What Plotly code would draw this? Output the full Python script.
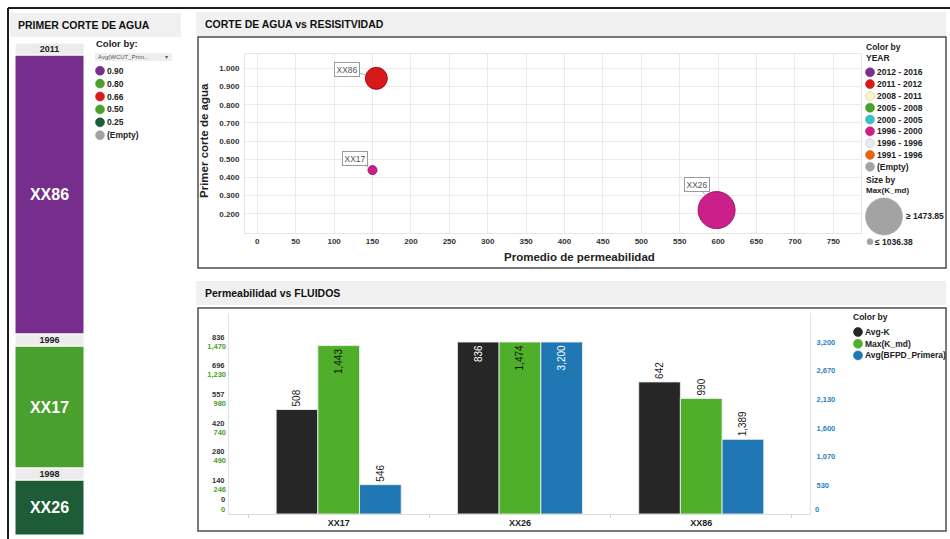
import plotly.graph_objects as go

W, H = 950, 539
FONT = "Liberation Sans, Arial, sans-serif"
FONT_TIT = "Liberation Sans Narrow, Arial Narrow, Liberation Sans, Arial, sans-serif"


def fx(p):
    return p / W


def fy(p):
    return 1 - p / H


# ---------- Primer corte de agua (columna por pozo) ----------
pozos_col = ["XX86", "XX17", "XX26"]
anio_col = [2011, 1996, 1998]
peso_col = [279, 122, 55]
wcut_col = ["0.90", "0.50", "0.25"]

wcut_leyenda = ["0.90", "0.80", "0.66", "0.50", "0.25", "(Empty)"]
wcut_colores = ["#772d8b", "#4aa02c", "#d7191c", "#4aa02c", "#1e5c37", "#a3a3a3"]

# ---------- Corte de agua vs resistividad ----------
pozos_sc = ["XX86", "XX17", "XX26"]
perm_prom = [155, 150, 598]
corte_agua = [0.945, 0.44, 0.22]
periodo_sc = ["2011 - 2012", "1996 - 2000", "1996 - 2000"]

periodos = ["2012 - 2016", "2011 - 2012", "2008 - 2011", "2005 - 2008", "2000 - 2005",
            "1996 - 2000", "1996 - 1996", "1991 - 1996", "(Empty)"]
periodo_colores = ["#7b2f8f", "#d7191c", "#fbf5c0", "#4aa02c", "#3cbfbf",
                   "#cc1f8a", "#e6ebf2", "#e8650f", "#a3a3a3"]
tam_leyenda = ["≥ 1473.85", "≤ 1036.38"]

# ---------- Permeabilidad vs fluidos ----------
pozos_bar = ["XX17", "XX26", "XX86"]
avg_k = [508, 836, 642]
max_k = [1443, 1474, 990]
avg_bfpd = [546, 3200, 1389]
ticks_avgk = ["140", "280", "420", "557", "696", "836"]
ticks_maxk = ["246", "490", "740", "980", "1,230", "1,470"]
ticks_bfpd = ["530", "1,070", "1,600", "2,130", "2,670", "3,200"]
series_bar = ["Avg-K", "Max(K_md)", "Avg(BFPD_Primera)"]
series_colores = ["#262626", "#4faf2b", "#1f78b4"]

fig = go.Figure()

# ---- columna apilada: bloque por pozo con franja de año encima
franja = 12
n = len(pozos_col)
base_bloque = [0] * n
base_franja = [0] * n
acum = 0
for i in reversed(range(n)):
    base_bloque[i] = acum
    acum += peso_col[i]
    base_franja[i] = acum
    acum += franja
total_col = acum
color_wcut = dict(zip(wcut_leyenda, wcut_colores))

fig.add_trace(go.Bar(
    x=[0] * n, y=peso_col, base=base_bloque, width=1,
    marker=dict(color=[color_wcut[w] for w in wcut_col], line=dict(color="white", width=1)),
    text=pozos_col, textposition="inside", insidetextanchor="middle", textangle=0,
    constraintext="none",
    textfont=dict(family=FONT, size=16, color="white", weight="bold"),
    xaxis="x", yaxis="y", hoverinfo="skip", showlegend=False,
))
fig.add_trace(go.Bar(
    x=[0] * n, y=[franja] * n, base=base_franja, width=1,
    marker=dict(color="#ececec", line=dict(color="white", width=1)),
    text=[str(a) for a in anio_col], textposition="inside", insidetextanchor="middle",
    textangle=0, constraintext="none",
    textfont=dict(family=FONT, size=9, color="#222", weight="bold"),
    xaxis="x", yaxis="y", hoverinfo="skip", showlegend=False,
))

# ---- burbujas
color_periodo = dict(zip(periodos, periodo_colores))
borde_periodo = {"2011 - 2012": "#a31214", "1996 - 2000": "#9c1669"}
diam_burbuja = [22, 9, 37]
fig.add_trace(go.Scatter(
    x=perm_prom, y=corte_agua, mode="markers",
    marker=dict(size=diam_burbuja, opacity=1,
                color=[color_periodo[p] for p in periodo_sc],
                line=dict(color=[borde_periodo[p] for p in periodo_sc], width=1)),
    xaxis="x2", yaxis="y2", hoverinfo="skip", showlegend=False, cliponaxis=False,
))

# ---- barras con tres ejes independientes
medidas = [avg_k, max_k, avg_bfpd]
ejes = ["y3", "y4", "y5"]
ancho = 0.23
desplaz = [-0.345, -0.115, 0.115]
for k, (vals, nombre, col, eje) in enumerate(zip(medidas, series_bar, series_colores, ejes)):
    tope = max(vals)
    pos = ["inside" if v / tope > 0.9 else "outside" for v in vals]
    txtcol = []
    for p in pos:
        if p == "inside":
            txtcol.append("#111" if k == 1 else "white")
        else:
            txtcol.append("#1a1a1a")
    fig.add_trace(go.Bar(
        x=list(range(len(pozos_bar))), y=vals, width=ancho, offset=desplaz[k],
        marker=dict(color=col, line=dict(color="rgba(235,235,235,0.9)", width=1)),
        texttemplate="%{y:,.0f}", textposition=pos, textangle=-90,
        insidetextanchor="end", constraintext="none",
        textfont=dict(family=FONT, size=10, color=txtcol),
        xaxis="x3", yaxis=eje, name=nombre, hoverinfo="skip", showlegend=False,
        cliponaxis=False,
    ))

# ---------- decoración en coordenadas de página ----------
shapes = []
ann = []


def rect(x0, y0, x1, y1, fill=None, line=None, lw=1, layer="below"):
    shapes.append(dict(type="rect", xref="paper", yref="paper",
                       x0=fx(x0), x1=fx(x1), y0=fy(y1), y1=fy(y0),
                       fillcolor=fill or "rgba(0,0,0,0)",
                       line=dict(color=line or "rgba(0,0,0,0)", width=lw if line else 0),
                       layer=layer))


def linea(x0, y0, x1, y1, color="#1a1a1a", lw=2):
    shapes.append(dict(type="line", xref="paper", yref="paper",
                       x0=fx(x0), x1=fx(x1), y0=fy(y0), y1=fy(y1),
                       line=dict(color=color, width=lw), layer="above"))


def circulo(cx, cy, d, color, borde=None):
    shapes.append(dict(type="circle", xref="paper", yref="paper",
                       x0=fx(cx - d / 2), x1=fx(cx + d / 2),
                       y0=fy(cy + d / 2), y1=fy(cy - d / 2),
                       fillcolor=color, line=dict(color=borde or color, width=0.6),
                       layer="above"))


def texto(x, y, s, size=8.5, bold=True, color="#222", anchor="left", family=FONT, angle=0):
    ann.append(dict(xref="paper", yref="paper", x=fx(x), y=fy(y), text=s,
                    xanchor=anchor, yanchor="middle", showarrow=False, textangle=angle,
                    font=dict(family=family, size=size, color=color,
                              weight="bold" if bold else "normal")))


# marco general
linea(8, 8, 950, 8)
linea(8, 8, 8, 539)

# encabezados
rect(10, 13, 181, 37, fill="#f0f0f0")
texto(16, 25, "PRIMER CORTE DE AGUA", size=10.5, family=FONT_TIT, color="#111")
rect(196, 12, 946, 36, fill="#f0f0f0")
texto(203, 24, "CORTE DE AGUA vs RESISITVIDAD", size=10.5, family=FONT_TIT, color="#111")
rect(196, 281, 946, 305, fill="#f0f0f0")
texto(203, 293, "Permeabilidad vs FLUIDOS", size=10.5, family=FONT_TIT, color="#111")

# marcos de los paneles
rect(198, 37, 946, 268, line="#4d4d4d", lw=1.5)
rect(198, 308, 946, 531, line="#4d4d4d", lw=1.5)

# leyenda de la columna
texto(94, 43.5, "Color by:", size=9.5)
rect(95, 53, 172, 61, fill="#efefef")
texto(96, 57, "Avg(WCUT_Prim...", size=6, bold=False, color="#555")
texto(163, 57, "▾", size=6, bold=False, color="#555")
for i, (lab, col) in enumerate(zip(wcut_leyenda, wcut_colores)):
    cy = 70.7 + i * 12.9
    circulo(100, cy, 9, col)
    texto(105, cy, lab, size=8.5)

# leyenda de burbujas
texto(864, 46.5, "Color by", size=8.5)
texto(864, 57.5, "YEAR", size=8.5)
for i, (lab, col) in enumerate(zip(periodos, periodo_colores)):
    cy = 72.3 + i * 11.8
    circulo(870, cy, 9, col, borde="#c8c8c8" if col in ("#fbf5c0", "#e6ebf2") else col)
    texto(875, cy, lab, size=8.5)
texto(864, 179.5, "Size by", size=8.5)
texto(864, 190.5, "Max(K_md)", size=8)
circulo(884, 216.5, 37, "#a3a3a3")
texto(904, 216.5, tam_leyenda[0], size=8.5)
circulo(870, 241.7, 6, "#a3a3a3")
texto(873, 241.7, tam_leyenda[1], size=8.5)

# leyenda de barras
texto(851, 317, "Color by", size=8.5)
for i, (lab, col) in enumerate(zip(series_bar, series_colores)):
    cy = 332 + i * 11.7
    circulo(858, cy, 9, col)
    texto(863, cy, lab, size=8.5)

# títulos de ejes del gráfico de burbujas
texto(579, 257, "Promedio de permeabilidad", size=11.5, anchor="center")
ann.append(dict(xref="paper", yref="paper", x=fx(204), y=fy(141), text="Primer corte de agua",
                textangle=-90, xanchor="center", yanchor="middle", showarrow=False,
                font=dict(family=FONT, size=11.5, color="#222", weight="bold")))

# etiquetas de pozos en las burbujas
desfase = {"XX86": (-29, -9, 11), "XX17": (-18, -12, 4.5), "XX26": (-20, -26, 18)}
for p, xv, yv in zip(pozos_sc, perm_prom, corte_agua):
    ax, ay, r = desfase[p]
    ann.append(dict(xref="x2", yref="y2", x=xv, y=yv, text=p, showarrow=True,
                    ax=ax, ay=ay, arrowhead=0, arrowwidth=0.8, arrowcolor="#9a9a9a",
                    standoff=r, bordercolor="#9a9a9a", borderwidth=1, borderpad=1.5,
                    bgcolor="white",
                    font=dict(family=FONT, size=8.5, color="#555")))

# ceros de los ejes de barras
texto(227, 499, "0", size=7.5, color="#333", anchor="right")
texto(227, 509, "0", size=7.5, color="#4aa02c", anchor="right")
texto(813, 509, "0", size=7.5, color="#2b7fc0", anchor="left")

# ---------- ejes ----------
K = 201 / 172
tick_style = dict(family=FONT, size=8, color="#333", weight="bold")
fig.update_layout(
    width=W, height=H, margin=dict(l=0, r=0, t=0, b=0),
    paper_bgcolor="white", plot_bgcolor="rgba(0,0,0,0)",
    barmode="overlay", showlegend=False, shapes=shapes, annotations=ann,
    xaxis=dict(domain=[fx(15), fx(84)], range=[-0.5, 0.5], visible=False, anchor="y"),
    yaxis=dict(domain=[fy(535), fy(43)], range=[0, total_col], visible=False, anchor="x"),
    xaxis2=dict(domain=[fx(245), fx(861)], range=[-16, 786], anchor="y2",
                tickvals=list(range(0, 751, 50)), showgrid=True, gridcolor="#ebebeb",
                zeroline=False, showline=True, mirror=True, linecolor="#e6e6e6",
                ticks="", tickfont=tick_style),
    yaxis2=dict(domain=[fy(233), fy(54)], range=[0.094, 1.079], anchor="x2",
                tickvals=[0.2, 0.3, 0.4, 0.5, 0.6, 0.7, 0.8, 0.9, 1.0], tickformat=".3f",
                showgrid=True, gridcolor="#ebebeb", zeroline=False, showline=True,
                mirror=True, linecolor="#e6e6e6", ticks="", tickfont=tick_style,
                ticklabelstandoff=3),
    xaxis3=dict(domain=[fx(229), fx(810)], range=[-0.605, 2.6], anchor="y3",
                tickvals=list(range(len(pozos_bar))), ticktext=pozos_bar, ticks="",
                showgrid=False, zeroline=False, showline=True, linecolor="#dcdcdc",
                tickfont=dict(family=FONT, size=9, color="#222", weight="bold"),
                minor=dict(tickvals=[-0.5, 0.5, 1.5, 2.5], ticks="outside", ticklen=3,
                           tickcolor="#cfcfcf", showgrid=False)),
    yaxis3=dict(domain=[fy(514), fy(313)], range=[0, max(avg_k) * K], anchor="x3",
                tickvals=[max(avg_k) * i / 6 for i in range(1, 7)], ticktext=ticks_avgk,
                showgrid=False, zeroline=False, showline=True, linecolor="#e3e3e3",
                ticks="", ticklabelshift=-5, ticklabelstandoff=2,
                tickfont=dict(family=FONT, size=7.5, color="#333", weight="bold")),
    yaxis4=dict(overlaying="y3", side="left", anchor="x3", range=[0, max(max_k) * K],
                tickvals=[max(max_k) * i / 6 for i in range(1, 7)], ticktext=ticks_maxk,
                showgrid=False, zeroline=False, showline=False, ticks="",
                ticklabelshift=4, ticklabelstandoff=2,
                tickfont=dict(family=FONT, size=7.5, color="#4aa02c", weight="bold")),
    yaxis5=dict(overlaying="y3", side="right", anchor="x3", range=[0, max(avg_bfpd) * K],
                tickvals=[max(avg_bfpd) * i / 6 for i in range(1, 7)], ticktext=ticks_bfpd,
                showgrid=False, zeroline=False, showline=True, linecolor="#e3e3e3",
                ticks="", ticklabelstandoff=4,
                tickfont=dict(family=FONT, size=7.5, color="#2b7fc0", weight="bold")),
)

fig.write_html("out.html")
